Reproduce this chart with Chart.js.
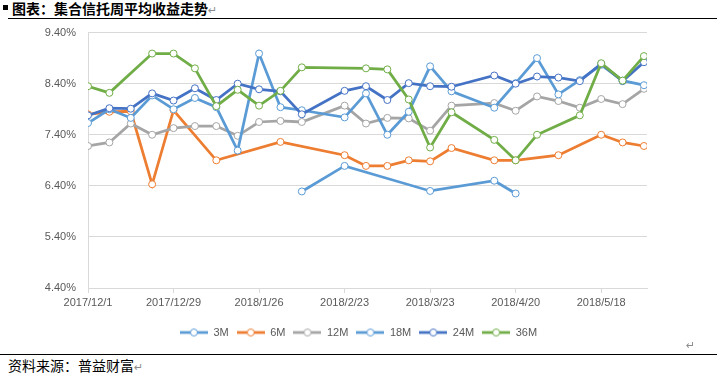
<!DOCTYPE html>
<html lang="zh">
<head>
<meta charset="UTF-8">
<title>集合信托周平均收益走势</title>
<style>
  body { margin: 0; width: 717px; height: 374px; position: relative; background: #fff; overflow: hidden; font-family: "Noto Sans CJK SC", sans-serif; }
  .bullet { position: absolute; left: 3px; top: 5px; width: 5px; height: 5px; background: #000; }
  .title { position: absolute; left: 12px; top: -1px; font-size: 14px; font-weight: bold; line-height: 18px; color: #000; white-space: nowrap; }
  .mark { color: #8c8c8c; font-weight: normal; font-size: 11px; font-family: "DejaVu Sans", sans-serif; }
  .rule-top { position: absolute; left: 8px; right: 0; top: 18px; border-top: 1px solid #000; }
  .rule-bottom { position: absolute; left: 0; right: 0; top: 354px; border-top: 1px solid #000; }
  .source { position: absolute; left: 8px; top: 356px; font-size: 14px; line-height: 18px; color: #000; white-space: nowrap; }
  .endmark { position: absolute; left: 686px; top: 339px; }
  .chart-box { position: absolute; left: 0; top: 14px; width: 717px; height: 334px; }
</style>
</head>
<body>
  <div class="bullet"></div>
  <div class="title">图表：集合信托周平均收益走势<span class="mark">↵</span></div>
  <div class="rule-top"></div>

  <div class="chart-box">
    <canvas id="trustChart" width="717" height="334"></canvas>
  </div>

  <span class="mark endmark">↵</span>
  <div class="rule-bottom"></div>
  <div class="source">资料来源：普益财富<span class="mark">↵</span></div>

  <script src="https://cdn.jsdelivr.net/npm/chart.js"></script>
  <script>
    // weekly dates (2/16 and 4/6 holiday weeks have no data)
    const dates = ['2017/12/1', '2017/12/8', '2017/12/15', '2017/12/22', '2017/12/29',
      '2018/1/5', '2018/1/12', '2018/1/19', '2018/1/26', '2018/2/2', '2018/2/9',
      '2018/2/23', '2018/3/2', '2018/3/9', '2018/3/16', '2018/3/23', '2018/3/30',
      '2018/4/13', '2018/4/20', '2018/4/27', '2018/5/4', '2018/5/11', '2018/5/18',
      '2018/5/25', '2018/6/1'];

    const tickDates = ['2017/12/1', '2017/12/29', '2018/1/26', '2018/2/23', '2018/3/23', '2018/4/20', '2018/5/18'];
    const axisEnd = '2018/6/2';

    // yields in %
    const m3 = [null, null, null, null, null, null, null, null, null, null, 6.29,
      6.79, null, null, null, 6.30, null, 6.50, 6.25, null, null, null, null, null, null];
    const m6 = [7.80, 7.85, 7.86, 6.43, 7.88, null, 6.90, null, null, 7.26, null,
      7.00, 6.79, 6.79, 6.90, 6.88, 7.14, 6.90, 6.90, null, 7.00, null, 7.40, 7.25, 7.18];
    const m12 = [7.18, 7.25, 7.62, 7.40, 7.53, 7.57, 7.57, 7.38, 7.65, 7.67, 7.65,
      7.97, 7.62, 7.73, 7.72, 7.48, 7.97, 8.02, 7.87, 8.15, 8.06, 7.93, 8.10, 8.00, 8.30];
    const m18 = [7.63, 7.90, 7.73, 8.17, 7.90, 8.12, 7.94, 7.09, 8.99, 7.94, 7.88,
      7.74, 8.21, 7.40, 7.85, 8.74, 8.25, 7.93, 8.41, 8.90, 8.19, 8.47, 8.77, 8.46, 8.37];
    const m24 = [7.78, 7.92, 7.91, 8.21, 8.07, 8.31, 8.08, 8.40, 8.29, 8.25, 7.80,
      8.26, 8.35, 8.08, 8.41, 8.35, 8.34, 8.56, 8.40, 8.54, 8.52, 8.45, 8.79, 8.45, 8.82];
    const m36 = [8.35, 8.22, null, 8.99, 8.99, 8.70, 7.96, 8.28, 7.97, 8.26, 8.72,
      null, 8.70, 8.68, 8.09, 7.15, 7.84, 7.30, 6.90, 7.40, null, 7.78, 8.80, 8.46, 8.94];

    const names = ['3M', '6M', '12M', '18M', '24M', '36M'];
    const values = [m3, m6, m12, m18, m24, m36];
    const colors = ['#5B9BD5', '#ED7D31', '#A5A5A5', '#5B9BD5', '#4472C4', '#70AD47'];

    const textColor = '#595959';
    const gridColor = '#D9D9D9';

    const dayOf = (s) => {
      const [y, m, d] = s.split('/').map(Number);
      return (Date.UTC(y, m - 1, d) - Date.UTC(2017, 11, 1)) / 86400000;
    };

    // legend symbol: short line with a hollow marker, like the Excel one
    const legendIcon = (color) => {
      const c = document.createElement('canvas');
      c.width = 28;
      c.height = 10;
      const g = c.getContext('2d');
      g.strokeStyle = color;
      g.lineWidth = 2.75;
      g.beginPath();
      g.moveTo(0, 5);
      g.lineTo(28, 5);
      g.stroke();
      g.fillStyle = '#fff';
      g.lineWidth = 1;
      g.beginPath();
      g.arc(14, 5, 3.5, 0, Math.PI * 2);
      g.fill();
      g.stroke();
      return c;
    };
    const icons = colors.map(legendIcon);

    const datasets = names.map((name, i) => ({
      label: name,
      data: dates.map((d, j) => ({ x: dayOf(d), y: values[i][j] })),
      borderColor: colors[i],
      backgroundColor: colors[i],
      borderWidth: 2.75,
      pointRadius: 3.5,
      pointBorderWidth: 1,
      pointBackgroundColor: '#fff',
      pointBorderColor: colors[i],
      tension: 0,
      spanGaps: true,
      order: names.length - i   // later series drawn on top
    }));

    Chart.defaults.font.family = '"Liberation Sans", Arial, sans-serif';
    Chart.defaults.font.size = 11;

    new Chart(document.getElementById('trustChart'), {
      type: 'line',
      data: { datasets },
      options: {
        responsive: false,
        animation: false,
        devicePixelRatio: 1,
        layout: { padding: { top: 6, left: 0, right: 0, bottom: 0 } },
        plugins: {
          tooltip: { enabled: false },
          legend: {
            position: 'bottom',
            labels: {
              color: textColor,
              usePointStyle: true,
              pointStyleWidth: 28,
              padding: 8,
              sort: (a, b) => a.datasetIndex - b.datasetIndex,
              generateLabels(chart) {
                return Chart.defaults.plugins.legend.labels.generateLabels(chart).map((l) => {
                  l.pointStyle = icons[l.datasetIndex];
                  return l;
                });
              }
            }
          }
        },
        scales: {
          x: {
            type: 'linear',
            min: dayOf(dates[0]),
            max: dayOf(axisEnd),
            afterBuildTicks(scale) {
              scale.ticks = tickDates.map((d) => ({ value: dayOf(d) }));
            },
            ticks: {
              autoSkip: false,
              maxRotation: 0,
              color: textColor,
              padding: 3,
              callback: (v) => tickDates.find((d) => dayOf(d) === v) || ''
            },
            grid: { drawOnChartArea: false, tickLength: 5, color: gridColor },
            border: { color: gridColor },
            afterFit(scale) { scale.height = 31; }
          },
          y: {
            min: 4.4,
            max: 9.4,
            ticks: {
              stepSize: 1,
              color: textColor,
              padding: 12,
              callback: (v) => v.toFixed(2) + '%'
            },
            grid: { color: gridColor, drawTicks: false },
            border: { display: true, color: gridColor },
            afterFit(scale) { scale.width = 88; }
          },
          // empty axis that only keeps the white gap on the right
          yRight: {
            position: 'right',
            grid: { display: false },
            border: { display: false },
            ticks: { display: false },
            afterFit(scale) { scale.width = 70; }
          }
        }
      }
    });
  </script>
</body>
</html>
